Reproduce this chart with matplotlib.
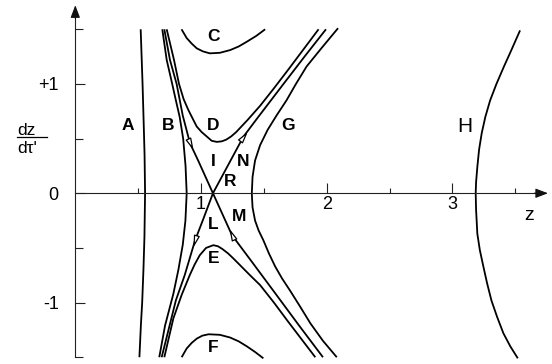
import numpy as np
import matplotlib
matplotlib.use("Agg")
import matplotlib.pyplot as plt
from matplotlib.path import Path
from matplotlib.markers import MarkerStyle
from matplotlib.transforms import Affine2D

plt.rcParams["font.family"] = ["Liberation Sans", "DejaVu Sans"]

# ---- phase-plane trajectories, (z, dz/dtau') pairs ----
curve_A = [(0.51, -1.5), (0.522, -1.2), (0.532, -1.0), (0.542, -0.7), (0.55, -0.4),
           (0.555, 0.0), (0.551, 0.35), (0.545, 0.6), (0.535, 1.0), (0.52, 1.5)]
curve_B = [(0.668, -1.5), (0.714, -1.21), (0.78, -0.92), (0.82, -0.7), (0.855, -0.47),
           (0.876, -0.25), (0.886, 0.0), (0.877, 0.25), (0.858, 0.5), (0.83, 0.7),
           (0.80, 0.85), (0.767, 1.02), (0.727, 1.22), (0.692, 1.5)]
curve_C = [(0.845, 1.5), (0.886, 1.42), (0.925, 1.37), (0.966, 1.326), (1.015, 1.298),
           (1.07, 1.28), (1.15, 1.285), (1.232, 1.31), (1.30, 1.343), (1.364, 1.386),
           (1.44, 1.44), (1.51, 1.5)]
curve_D = [(0.727, 1.5), (0.785, 1.22), (0.825, 1.0), (0.862, 0.86), (0.90, 0.76),
           (0.935, 0.68), (0.966, 0.61), (1.005, 0.56), (1.045, 0.52), (1.085, 0.48),
           (1.125, 0.47), (1.165, 0.475), (1.20, 0.49), (1.24, 0.52), (1.28, 0.56),
           (1.37, 0.67), (1.47, 0.80), (1.58, 0.96), (1.70, 1.14), (1.935, 1.5)]
curve_E = [(0.708, -1.5), (0.78, -1.145), (0.846, -0.93), (0.91, -0.75), (0.95, -0.65),
           (0.99, -0.567), (1.04, -0.50), (1.098, -0.475), (1.135, -0.485), (1.17, -0.51),
           (1.215, -0.55), (1.257, -0.596), (1.39, -0.75), (1.47, -0.84), (1.58, -1.0),
           (1.69, -1.17), (1.909, -1.5)]
curve_F = [(0.846, -1.5), (0.886, -1.42), (0.925, -1.37), (0.966, -1.33), (1.01, -1.303),
           (1.06, -1.29), (1.15, -1.295), (1.232, -1.32), (1.30, -1.355), (1.364, -1.40),
           (1.43, -1.452), (1.496, -1.51)]
curve_G = [(2.09, 1.51), (1.96, 1.33), (1.84, 1.16), (1.755, 1.0), (1.68, 0.85),
           (1.60, 0.71), (1.53, 0.58), (1.47, 0.44), (1.43, 0.30), (1.41, 0.15),
           (1.404, 0.0), (1.41, -0.13), (1.43, -0.25), (1.458, -0.34), (1.496, -0.43),
           (1.54, -0.55), (1.59, -0.67), (1.645, -0.78), (1.708, -0.89), (1.79, -1.04),
           (1.87, -1.19), (1.97, -1.35), (2.08, -1.5)]
curve_H = [(3.538, 1.49), (3.465, 1.3), (3.41, 1.16), (3.35, 1.0), (3.30, 0.85),
           (3.262, 0.7), (3.233, 0.55), (3.212, 0.4), (3.198, 0.24), (3.188, 0.1),
           (3.185, 0.0), (3.188, -0.15), (3.198, -0.37), (3.218, -0.52), (3.246, -0.67),
           (3.275, -0.82), (3.31, -0.98), (3.355, -1.13), (3.405, -1.28), (3.46, -1.4),
           (3.52, -1.51)]

# separatrices crossing at the saddle R
sep_down = [(0.708, 1.5), (0.753, 1.22), (0.806, 1.0), (0.855, 0.71), (0.9125, 0.457),
            (0.977, 0.3), (1.095, 0.0), (1.17, -0.19), (1.246, -0.383), (1.40, -0.62),
            (1.60, -0.93), (1.78, -1.21), (1.97, -1.5)]
sep_up = [(0.687, -1.5), (0.75, -1.21), (0.80, -0.98), (0.87, -0.75), (0.953, -0.43),
          (1.02, -0.23), (1.095, 0.0), (1.212, 0.25), (1.337, 0.517), (1.45, 0.69),
          (1.656, 1.0), (1.83, 1.26), (1.994, 1.5)]

# flow arrows: (curve, index of point, index of point it heads to)
flow_arrows = [(sep_down, 4, 6), (sep_down, 8, 6), (sep_up, 4, 3), (sep_up, 8, 10)]

labels = {"A": (0.42, 0.62), "B": (0.74, 0.62), "C": (1.10, 1.43), "D": (1.10, 0.62),
          "E": (1.10, -0.60), "F": (1.10, -1.41), "G": (1.69, 0.62),
          "I": (1.10, 0.29), "N": (1.336, 0.29), "R": (1.23, 0.105),
          "L": (1.10, -0.29), "M": (1.305, -0.215)}

x_major = [1, 2, 3]
x_minor = [0.5, 1.5, 2.5, 3.5]
y_major = [-1, 0, 1]
y_major_text = ["-1", "0", "+1"]
y_minor = [-1.5, -0.5, 0.5, 1.5]

###-------------------figure------------------###
fig = plt.figure(figsize=(5.52, 3.64), dpi=100, facecolor="white")
ax = fig.add_axes([0, 0, 1, 1])
ax.set_xlim(-0.599, 3.792)
ax.set_ylim(-1.562, 1.768)

line_kw = dict(color="black", lw=1.3, solid_capstyle="butt", solid_joinstyle="round")
for crv in [curve_A, curve_B, curve_C, curve_D, curve_E, curve_F, curve_G, curve_H,
            sep_down, sep_up]:
    pts = np.array(crv)
    ax.plot(pts[:, 0], pts[:, 1], **line_kw)

###-------------------open arrowheads on separatrices------------------###
head = Path([(0, 0.5), (-0.25, -0.5), (0.25, -0.5), (0, 0.5)],
            [Path.MOVETO, Path.LINETO, Path.LINETO, Path.CLOSEPOLY])
for crv, i, j in flow_arrows:
    p0 = ax.transData.transform(crv[i])
    p1 = ax.transData.transform(crv[j])
    ang = np.degrees(np.arctan2(p1[1] - p0[1], p1[0] - p0[0])) - 90
    mk = MarkerStyle(head, transform=Affine2D().rotate_deg(ang))
    ax.plot(*crv[i], marker=mk, ms=7, mfc="white", mec="black", mew=0.9, zorder=5)

###-------------------region letters------------------###
for name, (zx, vy) in labels.items():
    ax.text(zx, vy, name, fontsize=12.5, fontweight="bold", ha="center", va="center")
ax.text(3.095, 0.61, "H", fontsize=15, ha="center", va="center")

###-------------------axes with arrows------------------###
for s in ["top", "right"]:
    ax.spines[s].set_visible(False)
ax.spines["left"].set_position(("data", 0))
ax.spines["bottom"].set_position(("data", 0))
ax.spines["left"].set_bounds(-1.5, 1.66)
ax.spines["bottom"].set_bounds(0, 3.70)
for s in ["left", "bottom"]:
    ax.spines[s].set_linewidth(0.8)
    ax.spines[s].set_color("#222222")

arrow_kw = dict(arrowstyle="-|>,head_length=0.42,head_width=0.16", color="#111111",
                lw=0.8, shrinkA=0, shrinkB=0, mutation_scale=18)
ax.annotate("", xy=(0, 1.72), xytext=(0, 1.6), arrowprops=arrow_kw)
ax.annotate("", xy=(3.76, 0), xytext=(3.65, 0), arrowprops=arrow_kw)

ax.set_xticks(x_major, [str(t) for t in x_major])
ax.set_xticks(x_minor, minor=True)
ax.set_yticks(y_major, y_major_text)
ax.set_yticks(y_minor, minor=True)
ax.tick_params(axis="x", which="major", direction="in", length=7.5, width=0.8,
               pad=2, labelsize=13, color="#222222")
ax.tick_params(axis="x", which="minor", direction="in", length=3.6, width=0.8,
               color="#222222")
ax.tick_params(axis="y", which="major", direction="in", length=7.5, width=0.8,
               pad=12, labelsize=13, color="#222222")
ax.tick_params(axis="y", which="minor", direction="in", length=5.8, width=0.8,
               color="#222222")

ax.text(3.61, -0.20, "z", fontsize=14, ha="center", va="center")

# vertical axis label dz / dtau'
ax.text(-0.464, 0.578, "dz", fontsize=12.5, ha="left", va="center")
ax.plot([-0.464, -0.225], [0.517, 0.517], color="black", lw=0.9)
ax.text(-0.464, 0.41, "d\u03c4'", fontsize=12.5, ha="left", va="center")

fig.savefig("out.png", dpi=100, facecolor="white")
